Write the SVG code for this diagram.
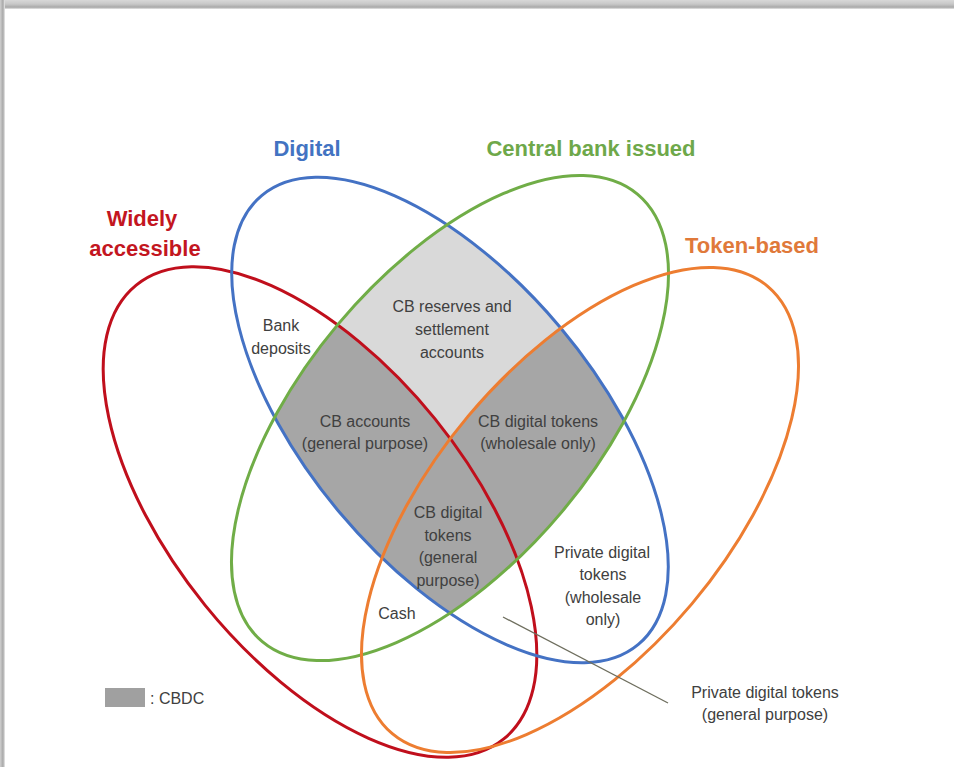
<svg xmlns="http://www.w3.org/2000/svg" width="954" height="767" viewBox="0 0 954 767">
  <style>
    .set { fill: none; stroke-width: 3; }
    .head { font-family: "Liberation Sans", Arial, sans-serif; font-weight: bold; font-size: 22px; text-anchor: middle; }
    .lbl { font-family: "Liberation Sans", Arial, sans-serif; font-size: 16px; fill: #404040; text-anchor: middle; }
    .lead { stroke: #6e6e5e; stroke-width: 1.3; fill: none; }
  </style>
  <defs>
    <linearGradient id="topEdge" x1="0" y1="0" x2="0" y2="1">
      <stop offset="0" stop-color="#d8d8d8"/>
      <stop offset="0.45" stop-color="#c8c8c8"/>
      <stop offset="0.8" stop-color="#a9a9a9"/>
      <stop offset="1" stop-color="#e6e6e6"/>
    </linearGradient>
    <linearGradient id="leftEdge" x1="0" y1="0" x2="1" y2="0">
      <stop offset="0" stop-color="#d0d0d0"/>
      <stop offset="0.6" stop-color="#a8a8a8"/>
      <stop offset="1" stop-color="#ececec"/>
    </linearGradient>
    <clipPath id="clipGreen">
      <ellipse cx="0" cy="0" rx="292" ry="146" transform="translate(450 418) rotate(-50)"/>
    </clipPath>
    <clipPath id="clipBlue">
      <ellipse cx="0" cy="0" rx="293" ry="144" transform="translate(450 420) rotate(50)"/>
    </clipPath>
  </defs>

  <!-- page and frame edges -->
  <rect x="0" y="0" width="954" height="767" fill="#ffffff"/>
  <rect x="0" y="0" width="954" height="9" fill="url(#topEdge)"/>
  <rect x="0" y="0" width="5" height="767" fill="url(#leftEdge)"/>

  <!-- shaded intersections -->
  <g id="regions">
    <g clip-path="url(#clipGreen)">
      <ellipse cx="0" cy="0" rx="293" ry="144" transform="translate(450 420) rotate(50)" fill="#d9d9d9"/>
      <g clip-path="url(#clipBlue)">
        <ellipse cx="0" cy="0" rx="292" ry="148" transform="translate(320 512) rotate(51)" fill="#a6a6a6"/>
        <ellipse cx="0" cy="0" rx="292" ry="146" transform="translate(580 510) rotate(-50)" fill="#a6a6a6"/>
      </g>
    </g>
  </g>

  <!-- sets -->
  <g id="set-widely-accessible">
    <ellipse class="set" cx="0" cy="0" rx="292" ry="148" transform="translate(320 512) rotate(51)" stroke="#c00f1c"/>
    <text class="head" fill="#c3161f"><tspan x="142" y="226">Widely</tspan><tspan x="145" y="256">accessible</tspan></text>
  </g>
  <g id="set-digital">
    <ellipse class="set" cx="0" cy="0" rx="293" ry="144" transform="translate(450 420) rotate(50)" stroke="#4472c4"/>
    <text class="head" x="307" y="156" fill="#4273c2">Digital</text>
  </g>
  <g id="set-central-bank">
    <ellipse class="set" cx="0" cy="0" rx="292" ry="146" transform="translate(450 418) rotate(-50)" stroke="#70ad47"/>
    <text class="head" x="591" y="156" fill="#6ea84a">Central bank issued</text>
  </g>
  <g id="set-token-based">
    <ellipse class="set" cx="0" cy="0" rx="292" ry="146" transform="translate(580 510) rotate(-50)" stroke="#ed7d31"/>
    <text class="head" x="752" y="253" fill="#e0793a">Token-based</text>
  </g>

  <!-- region labels -->
  <g id="lbl-bank-deposits">
    <text class="lbl"><tspan x="281" y="331">Bank</tspan><tspan x="281" y="354">deposits</tspan></text>
  </g>
  <g id="lbl-cb-reserves">
    <text class="lbl"><tspan x="452" y="312">CB reserves and</tspan><tspan x="452" y="335">settlement</tspan><tspan x="452" y="358">accounts</tspan></text>
  </g>
  <g id="lbl-cb-accounts">
    <text class="lbl"><tspan x="365" y="427">CB accounts</tspan><tspan x="365" y="449">(general purpose)</tspan></text>
  </g>
  <g id="lbl-cb-tokens-wholesale">
    <text class="lbl"><tspan x="538" y="427">CB digital tokens</tspan><tspan x="538" y="449">(wholesale only)</tspan></text>
  </g>
  <g id="lbl-cb-tokens-general">
    <text class="lbl"><tspan x="448" y="518">CB digital</tspan><tspan x="448" y="541">tokens</tspan><tspan x="448" y="563">(general</tspan><tspan x="448" y="586">purpose)</tspan></text>
  </g>
  <g id="lbl-cash">
    <text class="lbl" x="397" y="619">Cash</text>
  </g>
  <g id="lbl-private-wholesale">
    <text class="lbl"><tspan x="602" y="558">Private digital</tspan><tspan x="603" y="580">tokens</tspan><tspan x="603" y="603">(wholesale</tspan><tspan x="603" y="625">only)</tspan></text>
  </g>
  <g id="lbl-private-general">
    <text class="lbl"><tspan x="765" y="698">Private digital tokens</tspan><tspan x="765" y="720">(general purpose)</tspan></text>
  </g>

  <!-- connectors -->
  <g id="connectors">
    <line class="lead" x1="503" y1="617" x2="668" y2="703"/>
  </g>

  <!-- legend -->
  <g id="legend">
    <rect x="105" y="688" width="40" height="19" fill="#a0a0a0"/>
    <text class="lbl" x="150" y="704" style="text-anchor:start">: CBDC</text>
  </g>
</svg>
